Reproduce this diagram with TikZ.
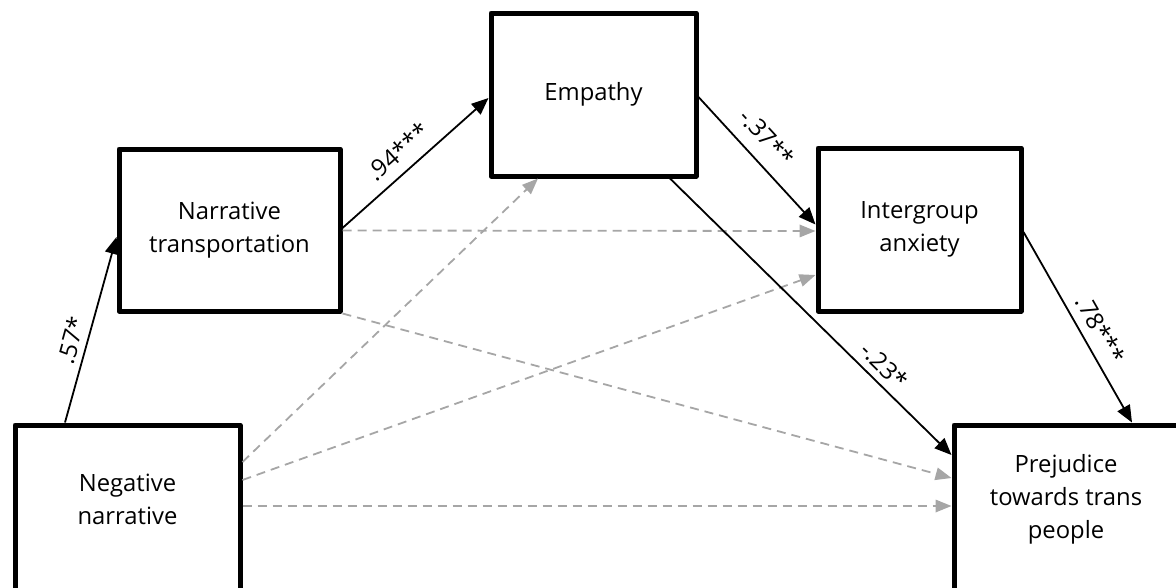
\documentclass[tikz,border=0pt]{standalone}
\usepackage{fontspec}
\setmainfont{Open Sans}
\usetikzlibrary{arrows.meta,calc}
\definecolor{dgray}{HTML}{A6A6A6}
\begin{document}
\begin{tikzpicture}[x=1pt,y=-1pt,
  boxtext/.style={align=center, font=\fontsize{23.8}{33}\selectfont, text=black},
  box/.style={draw=black, line width=5pt, line join=round, rectangle, inner sep=0pt, boxtext},
  causal/.style={line width=1.8pt, draw=black, -{Triangle[length=17pt,width=14pt]}},
  direct/.style={line width=1.8pt, draw=dgray, dash pattern=on 9pt off 6pt, -{Triangle[length=16pt,width=12.5pt,fill=dgray]}},
  coef/.style={sloped, above, inner xsep=1pt, font=\fontsize{24}{26}\selectfont, text=black}]
\useasboundingbox (0,0) rectangle (1176,587);

\node[box, minimum width=221pt, minimum height=162pt] (nt) at (229.5,230) {Narrative\\transportation};
\node[box, minimum width=205pt, minimum height=163pt] (emp) at (593.5,94.5) {Empathy};
\node[box, minimum width=203pt, minimum height=163pt] (ia) at (919.5,229.5) {Intergroup\\anxiety};
\node[box, minimum width=225pt, minimum height=175pt,
      label={[name=nntext, boxtext, yshift=13.5pt]center:Negative\\narrative}] (nn) at (127.5,512.5) {};
\node[box, minimum width=224pt, minimum height=175pt,
      label={[name=pretext, boxtext, yshift=13.5pt]center:Prejudice\\towards trans\\people}] (pre) at (1066,512.5) {};

% gray dashed (direct) paths
\draw[direct] ($(nt.east)+(0,0.5)$) -- ($(ia.west)+(0,1.5)$);
\draw[direct] (nt.south east) -- ($(pre.west)+(0,-34.5)$);
\draw[direct] ($(nn.east)+(0,-50.5)$) -- ($(emp.south)+(-55.5,0)$);
\draw[direct] ($(nn.east)+(0,-32.5)$) -- ($(ia.west)+(0,45.5)$);
\draw[direct] ($(nn.east)+(0,-6.5)$) -- ($(pre.west)+(0,-6.5)$);

% black causal paths
\draw[causal] ($(nn.north)+(-62.5,0)$) -- node[coef, pos=0.42, inner ysep=6pt] {.57*} ($(nt.west)+(0,7)$);
\draw[causal] ($(nt.east)+(0,-2)$) -- node[coef, pos=0.47, inner ysep=10pt] {.94***} ($(emp.west)+(0,3.5)$);
\draw[causal] ($(emp.east)+(0,2.5)$) -- node[coef, pos=0.44, inner ysep=13pt] {-.37**} ($(ia.west)+(0,-5)$);
\draw[causal] ($(emp.south)+(76.5,0)$) -- node[coef, pos=0.72, inner ysep=7pt] {-.23*} ($(pre.west)+(0,-57.5)$);
\draw[causal] ($(ia.east)+(0,2.5)$) -- node[coef, pos=0.56, inner ysep=9pt] {.78***} ($(pre.north)+(66,0)$);
\end{tikzpicture}
\end{document}
